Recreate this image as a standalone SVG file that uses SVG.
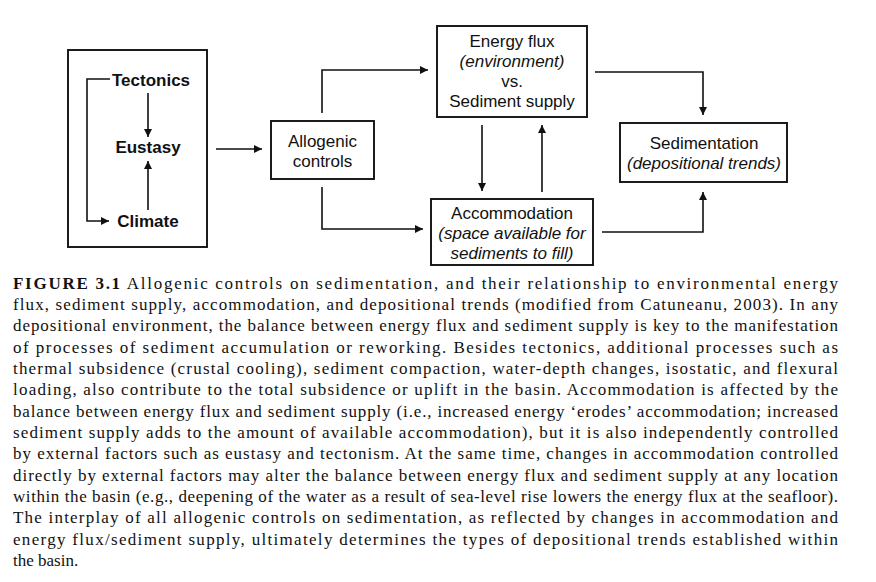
<svg xmlns="http://www.w3.org/2000/svg" width="876" height="582" viewBox="0 0 876 582">
<defs>
<marker id="ah" viewBox="0 0 10 10" refX="10" refY="5" markerWidth="8" markerHeight="8" markerUnits="userSpaceOnUse" orient="auto">
<path d="M0,0 L10,5 L0,10 z" fill="#111"/>
</marker>
</defs>
<style>
.box{fill:#fff;stroke:#111;stroke-width:1.9}
.lbl{font-family:"Liberation Sans",Arial,sans-serif;font-size:17px;fill:#111;text-anchor:middle}
.b{font-weight:bold}
.i{font-style:italic}
.con{fill:none;stroke:#111;stroke-width:1.6;marker-end:url(#ah)}
.cap{font-family:"Liberation Serif","Times New Roman",serif;font-size:17px;fill:#111}
</style>
<rect width="876" height="582" fill="#fff"/>

<g id="allogenic-group">
<rect class="box" x="68" y="50" width="139" height="197"/>
<g id="tectonics"><text class="lbl b" x="151" y="86">Tectonics</text></g>
<g id="eustasy"><text class="lbl b" x="148" y="153">Eustasy</text></g>
<g id="climate"><text class="lbl b" x="148" y="227">Climate</text></g>
</g>

<g id="allogenic-controls">
<rect class="box" x="271" y="121" width="103" height="58"/>
<text class="lbl" x="322.5" y="147">Allogenic</text>
<text class="lbl" x="322.5" y="167">controls</text>
</g>

<g id="energy-flux">
<rect class="box" x="437" y="26" width="150" height="91"/>
<text class="lbl" x="512" y="47">Energy flux</text>
<text class="lbl i" x="512" y="67">(environment)</text>
<text class="lbl" x="512" y="87">vs.</text>
<text class="lbl" x="512" y="107">Sediment supply</text>
</g>

<g id="accommodation">
<rect class="box" x="431" y="199" width="162" height="66"/>
<text class="lbl" x="512" y="219">Accommodation</text>
<text class="lbl i" x="512" y="239">(space available for</text>
<text class="lbl i" x="512" y="259">sediments to fill)</text>
</g>

<g id="sedimentation">
<rect class="box" x="620" y="123" width="167" height="59"/>
<text class="lbl" x="704" y="149">Sedimentation</text>
<text class="lbl i" x="704" y="169">(depositional trends)</text>
</g>

<g id="connectors">
<path class="con" d="M148,93 V137"/>
<path class="con" d="M148,210 V161"/>
<path class="con" d="M110,79 H87 V221 H109"/>
<path class="con" d="M216,149 H262"/>
<path class="con" d="M322,113 V70 H428"/>
<path class="con" d="M322,187 V229 H423"/>
<path class="con" d="M482,125 V191"/>
<path class="con" d="M542,192 V125"/>
<path class="con" d="M595,72 H703 V115"/>
<path class="con" d="M602,232 H703 V192"/>
</g>

<g id="caption">
<text class="cap" x="13" y="288.5" textLength="825" lengthAdjust="spacing"><tspan font-weight="bold">FIGURE 3.1</tspan> Allogenic controls on sedimentation, and their relationship to environmental energy</text>
<text class="cap" x="13" y="309.9" textLength="825" lengthAdjust="spacing">flux, sediment supply, accommodation, and depositional trends (modified from Catuneanu, 2003). In any</text>
<text class="cap" x="13" y="331.2" textLength="825" lengthAdjust="spacing">depositional environment, the balance between energy flux and sediment supply is key to the manifestation</text>
<text class="cap" x="13" y="352.6" textLength="825" lengthAdjust="spacing">of processes of sediment accumulation or reworking. Besides tectonics, additional processes such as</text>
<text class="cap" x="13" y="373.9" textLength="825" lengthAdjust="spacing">thermal subsidence (crustal cooling), sediment compaction, water-depth changes, isostatic, and flexural</text>
<text class="cap" x="13" y="395.3" textLength="825" lengthAdjust="spacing">loading, also contribute to the total subsidence or uplift in the basin. Accommodation is affected by the</text>
<text class="cap" x="13" y="416.6" textLength="825" lengthAdjust="spacing">balance between energy flux and sediment supply (i.e., increased energy ‘erodes’ accommodation; increased</text>
<text class="cap" x="13" y="438.0" textLength="825" lengthAdjust="spacing">sediment supply adds to the amount of available accommodation), but it is also independently controlled</text>
<text class="cap" x="13" y="459.3" textLength="825" lengthAdjust="spacing">by external factors such as eustasy and tectonism. At the same time, changes in accommodation controlled</text>
<text class="cap" x="13" y="480.7" textLength="825" lengthAdjust="spacing">directly by external factors may alter the balance between energy flux and sediment supply at any location</text>
<text class="cap" x="13" y="502.0" textLength="825" lengthAdjust="spacing">within the basin (e.g., deepening of the water as a result of sea-level rise lowers the energy flux at the seafloor).</text>
<text class="cap" x="13" y="523.4" textLength="825" lengthAdjust="spacing">The interplay of all allogenic controls on sedimentation, as reflected by changes in accommodation and</text>
<text class="cap" x="13" y="544.7" textLength="825" lengthAdjust="spacing">energy flux/sediment supply, ultimately determines the types of depositional trends established within</text>
<text class="cap" x="13" y="566.1">the basin.</text>
</g>
</svg>
